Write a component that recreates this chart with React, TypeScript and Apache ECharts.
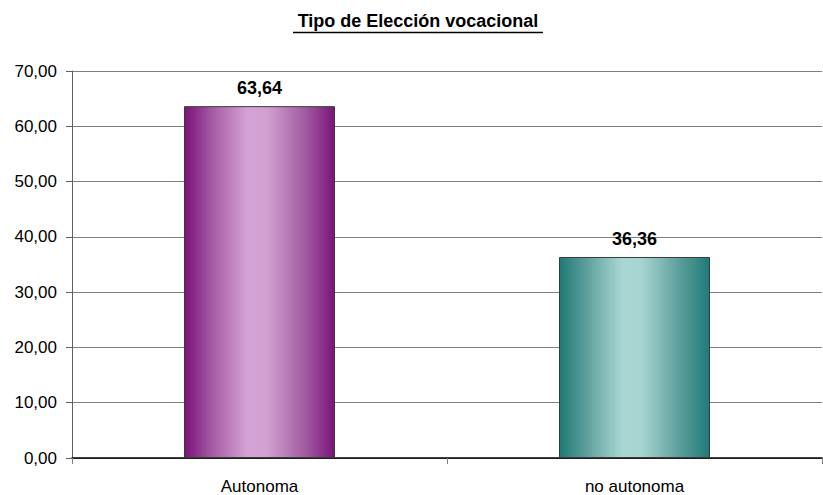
import React, { useEffect, useRef } from "react";
import * as echarts from "echarts";

const categories = ["Autonoma", "no autonoma"];
const values = [63.64, 36.36];
const titleText = "Tipo de Elección vocacional";
const yMin = 0;
const yMax = 70;
const yInterval = 10;

const FONT = "'Liberation Sans', Arial, sans-serif";

const fmt = (v: number) => v.toFixed(2).replace(".", ",");

const purple = new echarts.graphic.LinearGradient(0, 0, 1, 0, [
  { offset: 0, color: "#7a127a" },
  { offset: 0.18, color: "#a458a3" },
  { offset: 0.42, color: "#d6a3d5" },
  { offset: 0.55, color: "#d2a0d1" },
  { offset: 0.8, color: "#a25ca1" },
  { offset: 1, color: "#7a147a" },
]);
const teal = new echarts.graphic.LinearGradient(0, 0, 1, 0, [
  { offset: 0, color: "#1d7a77" },
  { offset: 0.18, color: "#5e9f9c" },
  { offset: 0.42, color: "#a9d8d4" },
  { offset: 0.55, color: "#a6d4d0" },
  { offset: 0.8, color: "#5c9e9b" },
  { offset: 1, color: "#1e7b78" },
]);
const fills = [purple, teal];

export default function App() {
  const ref = useRef<HTMLDivElement>(null);
  useEffect(() => {
    if (!ref.current) return;
    const chart = echarts.init(ref.current, undefined, { renderer: "svg" });
    chart.setOption({
      animation: false,
      backgroundColor: "#ffffff",
      grid: { left: 72, right: 1, top: 71, bottom: 37, containLabel: false },
      graphic: [
        {
          type: "text",
          x: 418,
          y: 21,
          style: {
            text: titleText,
            font: `bold 18px ${FONT}`,
            fill: "#000",
            align: "center",
            verticalAlign: "middle",
          },
        },
        {
          type: "line",
          shape: { x1: 293, y1: 32.5, x2: 543, y2: 32.5 },
          style: { stroke: "#000", lineWidth: 1.5 },
        },
      ],
      xAxis: {
        type: "category",
        data: categories,
        boundaryGap: true,
        axisLine: { show: true, lineStyle: { color: "#000", width: 1.5 } },
        axisTick: { show: true, length: 6, lineStyle: { color: "#808080" } },
        axisLabel: {
          color: "#000",
          fontFamily: FONT,
          fontSize: 17,
          margin: 20,
        },
        splitLine: { show: false },
      },
      yAxis: {
        type: "value",
        min: yMin,
        max: yMax,
        interval: yInterval,
        axisLine: { show: true, lineStyle: { color: "#606060", width: 1 } },
        axisTick: { show: true, length: 6, lineStyle: { color: "#606060" } },
        axisLabel: {
          color: "#000",
          fontFamily: FONT,
          fontSize: 17,
          margin: 15,
          formatter: (v: number) => fmt(v),
        },
        splitLine: { show: true, lineStyle: { color: "#808080", width: 1 } },
      },
      series: [
        {
          type: "bar",
          barWidth: 151,
          data: values.map((v, i) => ({
            value: v,
            itemStyle: { color: fills[i], borderColor: "#3a3a3a", borderWidth: 1 },
          })),
          label: {
            show: true,
            position: "top",
            distance: 9,
            color: "#000",
            fontFamily: FONT,
            fontSize: 18,
            fontWeight: "bold",
            formatter: (p: any) => fmt(p.value),
          },
        },
      ],
    });
    return () => chart.dispose();
  }, []);
  return (
    <div
      ref={ref}
      style={{ position: "fixed", left: 0, top: 0, width: 823, height: 495 }}
    />
  );
}
